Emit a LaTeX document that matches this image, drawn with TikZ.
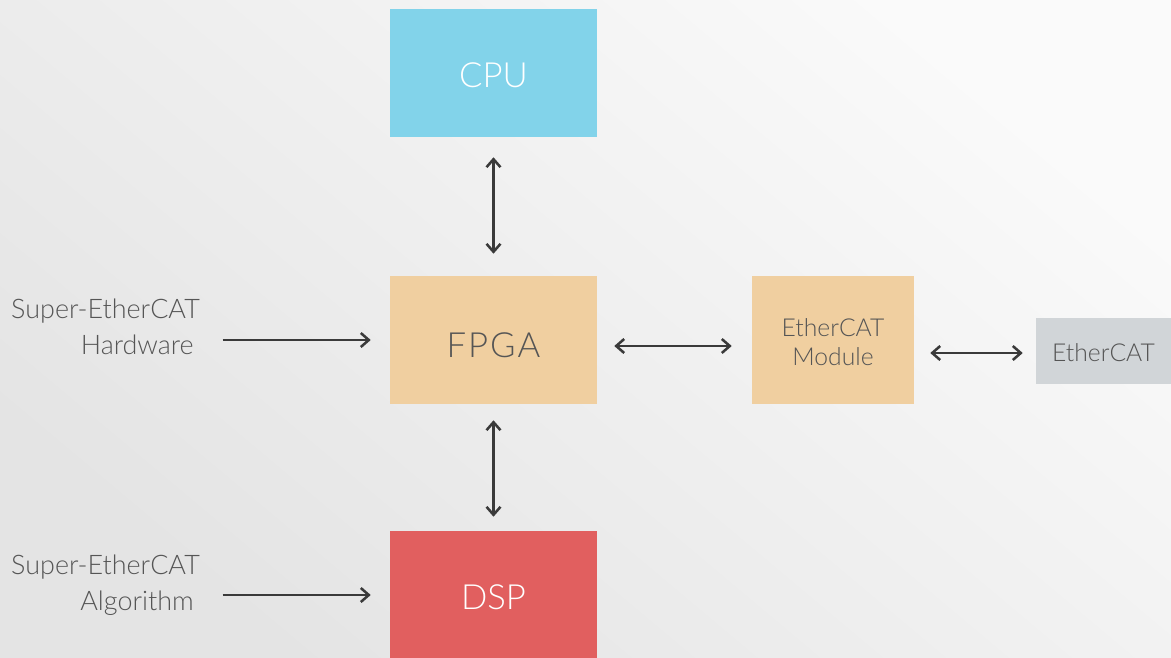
\documentclass[tikz,border=0pt]{standalone}
\usepackage{fontspec}
\setmainfont{Lato}[UprightFont=* Light]
\usetikzlibrary{arrows.meta}
\definecolor{cpuc}{HTML}{82D3EA}
\definecolor{fpgac}{HTML}{F0CFA0}
\definecolor{dspc}{HTML}{E15F5F}
\definecolor{ethc}{HTML}{D1D5D8}
\definecolor{txtc}{HTML}{555555}
\definecolor{arrc}{HTML}{3A3A3A}
\definecolor{bgA}{HTML}{FAFAFA}
\definecolor{bgB}{HTML}{E4E4E4}
\newcommand{\lowr}[2]{\raisebox{-#1}[\height][\depth]{#2}}
\tikzset{
  box/.style={rectangle, inner sep=0pt, draw=none, text=white, font=\fontsize{26}{30}\selectfont},
  smallbox/.style={rectangle, inner sep=0pt, draw=none, text=txtc, font=\fontsize{18.5}{22}\selectfont},
  lbl/.style={inner sep=0pt, text=txtc, align=right, font=\fontsize{20.2}{27}\selectfont},
  conn/.style={draw=arrc, line width=1.9pt, {Straight Barb[length=6pt,width=10.5pt]}-{Straight Barb[length=6pt,width=10.5pt]}},
  oneway/.style={draw=arrc, line width=1.9pt, -{Straight Barb[length=6pt,width=10.5pt]}}
}
\begin{document}
\begin{tikzpicture}[x=0.75pt,y=-0.75pt]
\useasboundingbox (0,0) rectangle (1171,657);
\shade[shading=axis, top color=bgA, bottom color=bgB, shading angle=-40] (0,0) rectangle (1171,657);
\node[box, fill=cpuc, minimum width=155.25pt, minimum height=96pt] (cpu) at (493.5,73) {\lowr{2pt}{CPU}};
\node[box, fill=fpgac, text=txtc, minimum width=155.25pt, minimum height=96pt] (fpga) at (493.5,340) {\lowr{4pt}{F\kern1.5pt P\kern1.5pt G\kern1.5pt A}};
\node[box, fill=dspc, minimum width=155.25pt, minimum height=96pt] (dsp) at (493.5,595) {\lowr{2pt}{DSP}};
\node[smallbox, fill=fpgac, minimum width=121.5pt, minimum height=96pt] (mod) at (833,340) {\lowr{4pt}{\setlength{\tabcolsep}{0pt}\begin{tabular}{c}EtherCAT\\Module\end{tabular}}};
\node[smallbox, fill=ethc, minimum width=101.25pt, minimum height=49.5pt] (eth) at (1103.5,351) {\lowr{1pt}{EtherCAT}};
\node[lbl, anchor=north east] (hw) at (200,299) {Super-EtherCAT\\Hardware\hspace*{4.5pt}};
\node[lbl, anchor=north east] (alg) at (200,555) {Super-EtherCAT\\Algorithm\hspace*{4.5pt}};
\draw[conn, shorten <=15pt, shorten >=16.5pt] (cpu.south) -- (fpga.north);
\draw[conn, shorten <=12pt, shorten >=10.5pt] (fpga.south) -- (dsp.north);
\draw[conn, shorten <=12.75pt, shorten >=15pt] ([yshift=-4.5pt]fpga.east) -- ([yshift=-4.5pt]mod.west);
\draw[conn, shorten <=12pt, shorten >=9.75pt] ([yshift=-9.75pt]mod.east) -- ([yshift=-1.5pt]eth.west);
\draw[oneway, shorten <=17pt, shorten >=14.25pt] (hw.east |- 0,340) -- (fpga.west |- 0,340);
\draw[oneway, shorten <=17pt, shorten >=14.25pt] (alg.east |- 0,595) -- (dsp.west |- 0,595);
\end{tikzpicture}
\end{document}
